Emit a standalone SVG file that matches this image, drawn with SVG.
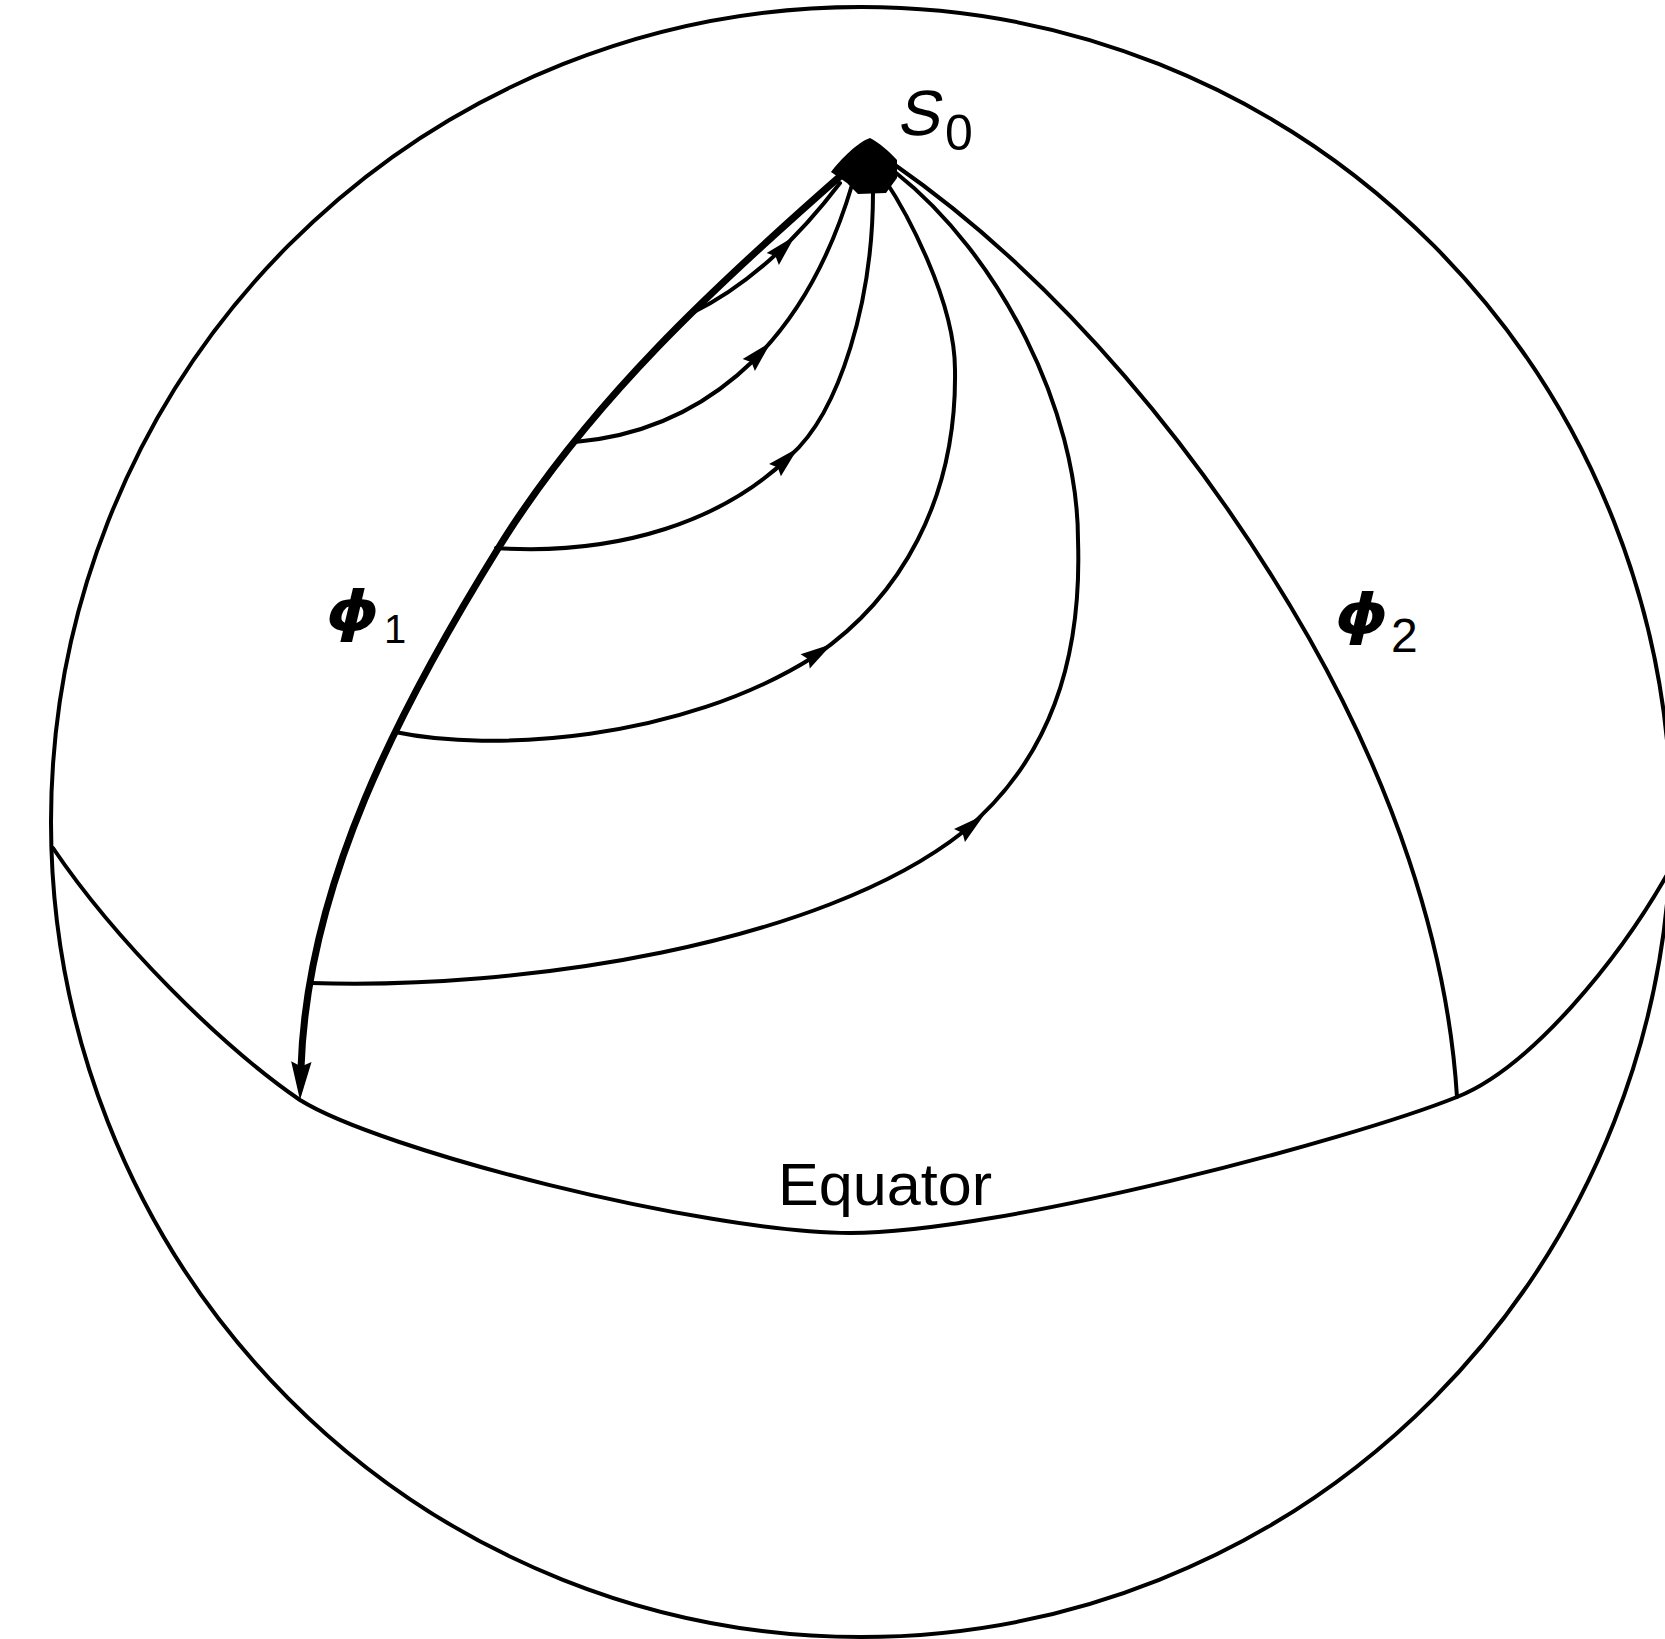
<svg xmlns="http://www.w3.org/2000/svg" width="1665" height="1639" viewBox="0 0 1665 1639">
<style>
  .ln { fill: none; stroke: #000; stroke-width: 4; stroke-linecap: round; stroke-linejoin: round; }
  .thick { fill: none; stroke: #000; stroke-width: 7; stroke-linecap: butt; stroke-linejoin: round; }
  .lbl { font-family: "Liberation Sans", Arial, sans-serif; fill: #000; }
  .phi { font-family: "DejaVu Sans", sans-serif; font-style: italic; font-weight: bold; fill: #000; }
</style>
<defs>
  <path id="ah" d="M0,0 L-32,-8.5 L-28,0 L-32,8.5 Z" fill="#000"/>
</defs>
<rect x="0" y="0" width="1665" height="1639" fill="#fff"/>

<g id="sphere">
  <ellipse class="ln" cx="861" cy="822" rx="810" ry="815"/>
</g>

<g id="equator">
  <path class="ln" d="M53,848 C115,940 220,1045 300,1100 C380,1150 700,1232 850,1233 C1000,1233 1350,1140 1457,1097 C1530,1068 1620,960 1672,866"/>
  <text class="lbl" x="778" y="1205" font-size="60" textLength="214" lengthAdjust="spacingAndGlyphs">Equator</text>
</g>

<g id="S0">
  <path d="M870,138 C878,142 890,152 897,160 L897,178 L886,193 L858,194 L847,183 L831,172 C840,160 858,142 870,138 Z" fill="#000"/>
  <text class="lbl" x="899" y="135" font-size="64" transform="skewX(-12) translate(26,0)">S</text>
  <text class="lbl" x="945" y="150" font-size="50">0</text>
</g>

<g id="connectors">
  <!-- phi1 meridian (thick) -->
  <path id="phi1-meridian" class="thick" d="M845,172 C717,284 589,402 499,547 C399,708 307,885 301,1068"/>
  <!-- phi2 meridian -->
  <path id="phi2-meridian" class="ln" d="M895,165 C1060,280 1205,456 1309,638 C1388,777 1447,937 1457,1097"/>
  <!-- trajectories -->
  <path id="traj-B" class="ln" d="M692,313 Q770,275 840,183"/>
  <path id="traj-C" class="ln" d="M575,442 C690,432 800,360 852,185"/>
  <path id="traj-D" class="ln" d="M496,548 C620,556 725,520 790,456 C840,412 873,300 873,192"/>
  <path id="traj-E" class="ln" d="M395,732 C490,752 680,742 815,656 C900,598 957,500 955,370 C955,300 905,210 885,180"/>
  <path id="traj-F" class="ln" d="M311,983 C520,990 820,945 963,832 C1050,760 1082,660 1078,540 C1078,410 1000,255 895,172"/>
  <!-- arrowheads -->
  <use href="#ah" transform="translate(795,236) rotate(-46)"/>
  <use href="#ah" transform="translate(771,342) rotate(-46)"/>
  <use href="#ah" transform="translate(798,448) rotate(-44)"/>
  <use href="#ah" transform="translate(832,644) rotate(-33)"/>
  <use href="#ah" transform="translate(984,815) rotate(-40)"/>
  <use href="#ah" transform="translate(300,1100) rotate(92) scale(1.2)"/>
</g>

<g id="labels">
  <text class="phi" font-size="56" font-weight="normal" transform="translate(326,630) scale(1.2,1)">ϕ</text>
  <text class="lbl" x="384" y="643" font-size="40">1</text>
  <text class="phi" font-size="56" font-weight="normal" transform="translate(1335,633) scale(1.2,1)">ϕ</text>
  <text class="lbl" x="1391" y="652" font-size="48">2</text>
</g>
</svg>
